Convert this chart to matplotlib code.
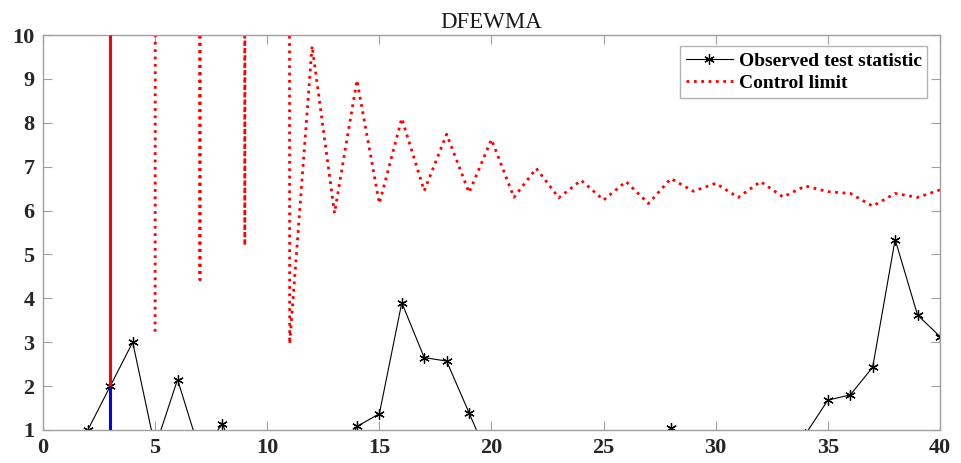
import numpy as np
import matplotlib
matplotlib.use("Agg")
import matplotlib.pyplot as plt

plt.rcParams['font.family'] = ['Liberation Serif', 'DejaVu Serif']

nan = np.nan

# Sample index
t = np.arange(1, 41)

# Observed DFEWMA test statistic (values below 1 fall outside the plotted range)
observed = [nan, 1.00, 2.00, 3.00, 0.60, 2.15, 0.50, 1.13, 0.00, 0.00,
            0.00, 0.00, 0.00, 1.08, 1.37, 3.90, 2.65, 2.57, 1.39, 0.20,
            0.00, 0.00, 0.00, 0.00, 0.00, 0.00, 0.00, 1.05, 0.00, 0.00,
            0.00, 0.00, 0.00, 0.90, 1.68, 1.80, 2.43, 5.34, 3.62, 3.13]

# Control limit (even samples early on are far above the plotted range)
control_limit = [nan, nan, nan, nan, 3.24, 1000.0, 4.42, 1000.0, 5.20, 1000.0,
                 2.96, 9.75, 5.94, 8.97, 6.16, 8.10, 6.45, 7.74, 6.41, 7.62,
                 6.30, 6.96, 6.29, 6.69, 6.24, 6.66, 6.16, 6.73, 6.44, 6.62,
                 6.30, 6.66, 6.31, 6.56, 6.43, 6.39, 6.10, 6.39, 6.30, 6.47]

# First out-of-control signal
signal_t = 3

x_ticks = [0, 5, 10, 15, 20, 25, 30, 35, 40]
y_ticks = [1, 2, 3, 4, 5, 6, 7, 8, 9, 10]
y_lo, y_hi = 1, 10

fig = plt.figure(figsize=(9.62, 4.63), dpi=100)
ax = fig.add_axes([0.0447, 0.0713, 0.9324, 0.8531])

# six-armed asterisk marker
asterisk = (6, 2, 0)
ax.plot(t, observed, color='black', lw=0.8, marker=asterisk, ms=7.5,
        mec='black', mfc='black', mew=0.9, label='Observed test statistic')
ax.plot(t, control_limit, color='red', lw=2.0, ls=':', label='Control limit')

sig_val = observed[signal_t - 1]
ax.vlines(signal_t, y_lo, sig_val, color='blue', lw=2.2, zorder=3)
ax.vlines(signal_t, sig_val, y_hi, color='red', lw=2.2, zorder=3)

ax.set_xlim(0, 40)
ax.set_ylim(y_lo, y_hi)
ax.set_xticks(x_ticks)
ax.set_yticks(y_ticks)

gray = '#a0a0a0'
for s in ax.spines.values():
    s.set_color(gray)
    s.set_linewidth(1.0)
ax.tick_params(axis='both', direction='in', length=6.5, width=0.8, color=gray,
               top=True, right=True, labelsize=16, pad=6)
for lab in ax.get_xticklabels() + ax.get_yticklabels():
    lab.set_fontweight('bold')
    lab.set_color('#262626')

ax.set_title('DFEWMA', fontsize=16.5, pad=5, color='#1a1a1a')

leg = ax.legend(loc='upper right', bbox_to_anchor=(0.986, 0.972),
                prop={'weight': 'bold', 'size': 14}, frameon=True,
                fancybox=False, edgecolor=gray, handlelength=2.4,
                handletextpad=0.3, borderpad=0.3, labelspacing=0.25,
                borderaxespad=0.0)
leg.get_frame().set_linewidth(1.0)

fig.savefig('out.png', dpi=100)
